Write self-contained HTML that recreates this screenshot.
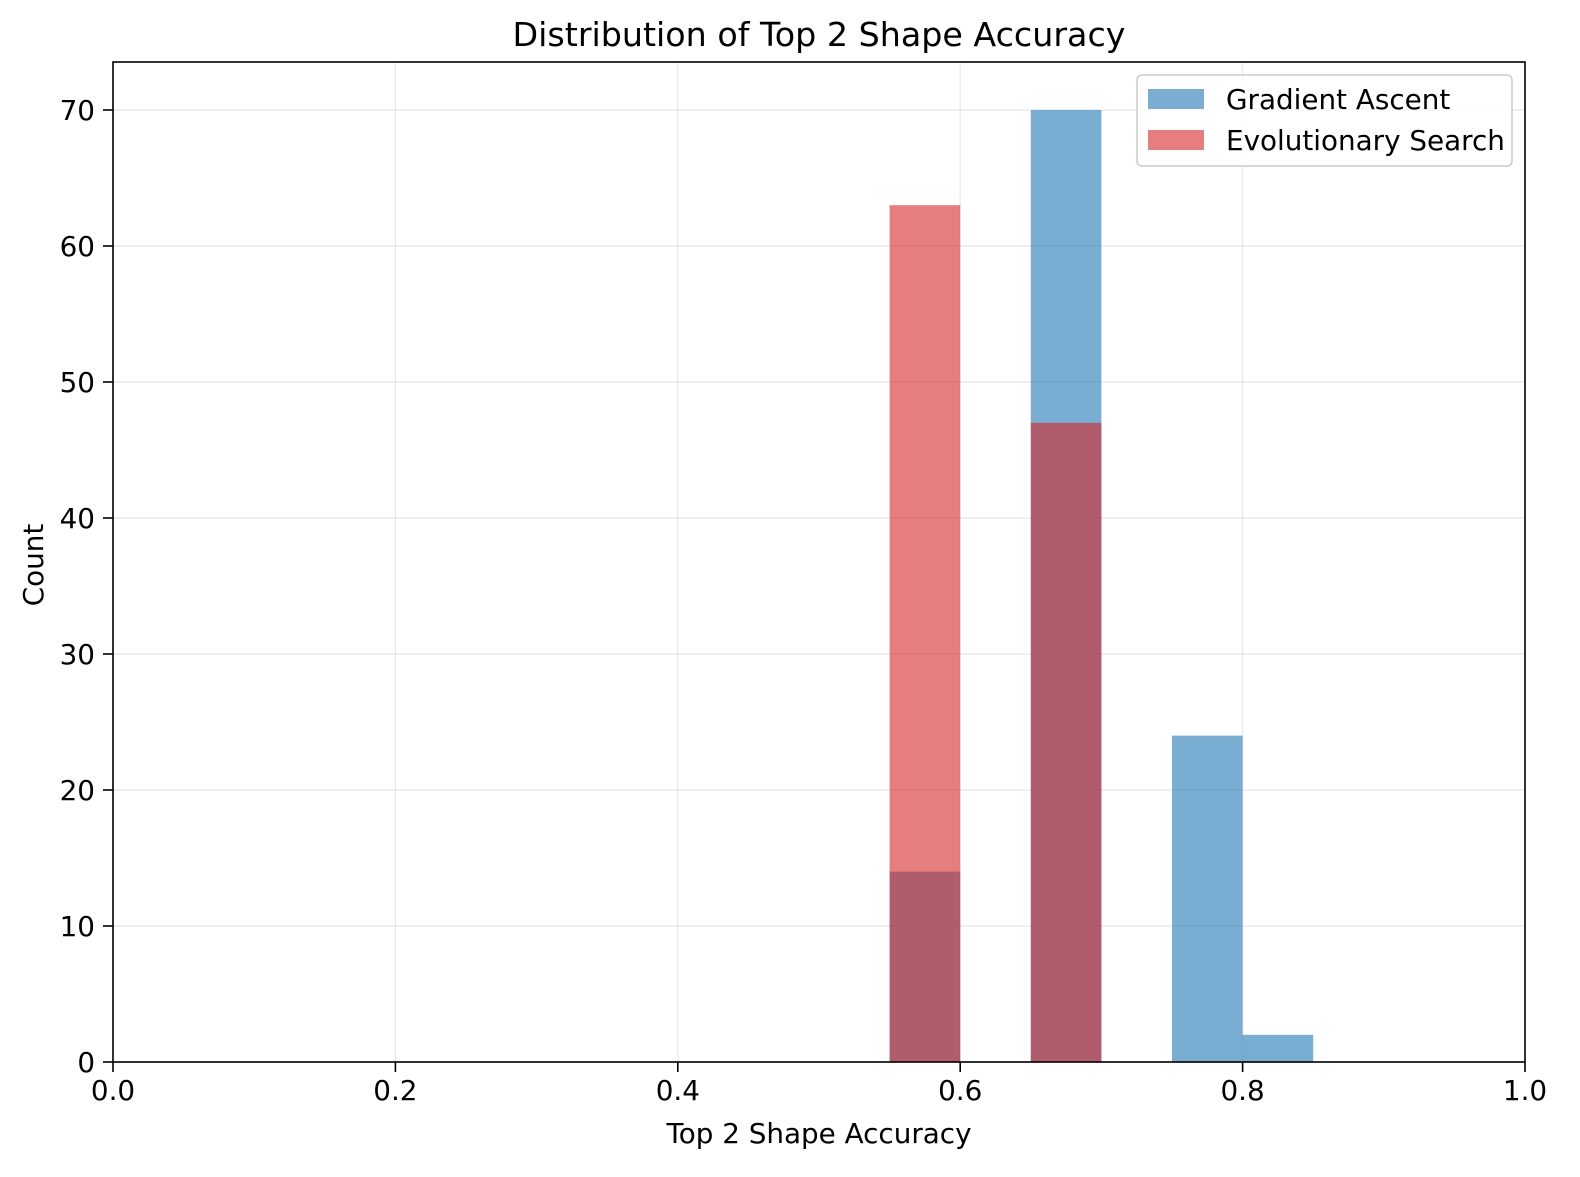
<!DOCTYPE html>
<html><head><meta charset="utf-8">
<style>
body{margin:0;background:#fff;}
svg{display:block;font-family:"DejaVu Sans","Liberation Sans",sans-serif;}
</style></head>
<body>
<svg id="chart" width="1580" height="1177" viewBox="0 0 1580 1177">
<text x="819" y="46" font-size="33.3" text-anchor="middle">Distribution of Top 2 Shape Accuracy</text>
<g id="grid"></g>
<g id="bars"></g>
<rect x="113" y="62" width="1412" height="1000" fill="none" stroke="#000" stroke-width="1.6"/>
<g id="ticks"></g>
<text x="819" y="1143" font-size="27.8" text-anchor="middle">Top 2 Shape Accuracy</text>
<text transform="translate(43,565) rotate(-90)" font-size="27.8" text-anchor="middle">Count</text>
<g>
<rect x="1137" y="75" width="375" height="91" rx="5" fill="#fff" fill-opacity="0.8" stroke="#ccc" stroke-width="1.5"/>
<rect x="1148" y="89" width="56" height="20" fill="#1f77b4" fill-opacity="0.6"/>
<text x="1226" y="109" font-size="27.8">Gradient Ascent</text>
<rect x="1148" y="130" width="56" height="20" fill="#d62728" fill-opacity="0.6"/>
<text x="1226" y="150" font-size="27.8">Evolutionary Search</text>
</g>
</svg>
<script>
const binStarts = [0.55, 0.65, 0.75, 0.80];
const gradientCounts = [14, 70, 24, 2];
const evoBinStarts = [0.55, 0.65];
const evoCounts = [63, 47];
const binWidth = 0.05;
const xTicks = [0, 0.2, 0.4, 0.6, 0.8, 1.0];
const xTickLabels = ["0.0", "0.2", "0.4", "0.6", "0.8", "1.0"];
const yTicks = [0, 10, 20, 30, 40, 50, 60, 70];

const NS = "http://www.w3.org/2000/svg";
const X0 = 113, X1 = 1525, Y0 = 1062, YTOP70 = 110;
const sx = v => X0 + v * (X1 - X0);
const sy = v => Y0 - v * (Y0 - YTOP70) / 70;
function mk(tag, attrs, parent) {
  const e = document.createElementNS(NS, tag);
  for (const k in attrs) e.setAttribute(k, attrs[k]);
  parent.appendChild(e);
  return e;
}
const grid = document.getElementById('grid');
const bars = document.getElementById('bars');
const ticks = document.getElementById('ticks');
xTicks.forEach((t, i) => {
  const g = mk('line', {x1: sx(t), x2: sx(t), y1: 62, y2: Y0, stroke: '#000', 'stroke-opacity': 0.08, 'stroke-width': 1.4}, grid);
  
  
  const tk = mk('line', {x1: sx(t), x2: sx(t), y1: Y0, y2: Y0 + 10, stroke: '#000', 'stroke-width': 1.6}, ticks);
  
  
  const tx = mk('text', {x: sx(t), y: Y0 + 38, 'font-size': 27.8, 'text-anchor': 'middle'}, ticks);
  tx.textContent = xTickLabels[i];
  
  
});
yTicks.forEach(t => {
  const g = mk('line', {x1: X0, x2: X1, y1: sy(t), y2: sy(t), stroke: '#000', 'stroke-opacity': 0.08, 'stroke-width': 1.4}, grid);
  
  
  const tk = mk('line', {x1: X0 - 10, x2: X0, y1: sy(t), y2: sy(t), stroke: '#000', 'stroke-width': 1.6}, ticks);
  
  
  const tx = mk('text', {x: X0 - 18, y: sy(t) + 10, 'font-size': 27.8, 'text-anchor': 'end'}, ticks);
  tx.textContent = String(t);
  
  
});
binStarts.forEach((b, i) => {
  const r = mk('rect', {x: sx(b), y: sy(gradientCounts[i]), width: sx(b + binWidth) - sx(b), height: Y0 - sy(gradientCounts[i]), fill: '#1f77b4', 'fill-opacity': 0.6}, bars);
  
  
});
evoBinStarts.forEach((b, i) => {
  const r = mk('rect', {x: sx(b), y: sy(evoCounts[i]), width: sx(b + binWidth) - sx(b), height: Y0 - sy(evoCounts[i]), fill: '#d62728', 'fill-opacity': 0.6}, bars);
  
  
});
</script>
</body></html>
